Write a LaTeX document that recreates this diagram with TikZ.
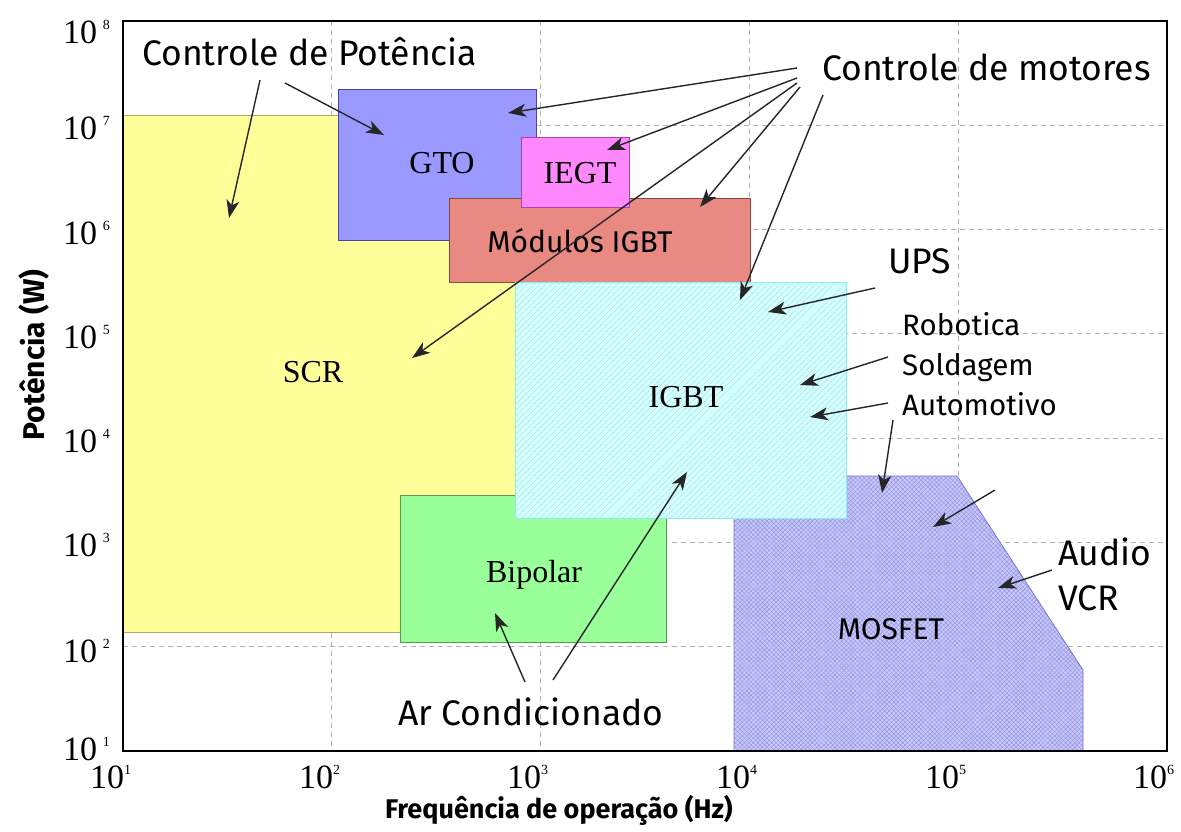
\documentclass[tikz,border=0pt]{standalone}
\usepackage{fontspec}
\setmainfont{Liberation Serif}
\newfontfamily\annfont{Fira Sans}
\usetikzlibrary{arrows.meta,patterns.meta}
\definecolor{scrc}{HTML}{FFFF99}
\definecolor{scrl}{HTML}{B0A860}
\definecolor{gtoc}{HTML}{9999FF}
\definecolor{gtol}{HTML}{4444AA}
\definecolor{iegtc}{HTML}{FF88FF}
\definecolor{iegtl}{HTML}{AA44AA}
\definecolor{modc}{HTML}{E88A82}
\definecolor{modl}{HTML}{8A4A40}
\definecolor{igbtc}{HTML}{D4FFFF}
\definecolor{igbth}{HTML}{9ED8E0}
\definecolor{igbtl}{HTML}{88EEEE}
\definecolor{bipc}{HTML}{99FF99}
\definecolor{bipl}{HTML}{559955}
\definecolor{mosc}{HTML}{C8C8FF}
\definecolor{mosh}{HTML}{9898E0}
\definecolor{mosl}{HTML}{7777CC}
\newcommand{\ex}[1]{\raisebox{14pt}{\fontsize{14}{14}\selectfont #1}}
\begin{document}
\begin{tikzpicture}[x=1pt,y=-1pt,
  gridl/.style={draw=gray!60, dash pattern=on 5pt off 4pt, line width=1pt},
  boxl/.style={line width=0.8pt},
  ann/.style={font=\annfont\fontsize{35.5}{40}\selectfont, inner sep=0pt, anchor=base west},
  annsm/.style={font=\annfont\fontsize{29.5}{32}\selectfont, inner sep=0pt, anchor=base west},
  serlab/.style={font=\fontsize{32}{34}\selectfont, inner sep=0pt, anchor=base},
  sanslab/.style={font=\annfont\fontsize{30}{32}\selectfont, inner sep=0pt, anchor=base},
  ytick/.style={font=\fontsize{34}{36}\selectfont, inner sep=0pt, anchor=base west},
  xtick/.style={font=\fontsize{34}{36}\selectfont, inner sep=0pt, anchor=base west},
  axlab/.style={font=\annfont\bfseries\fontsize{27}{30}\selectfont, inner sep=0pt},
  arr/.style={-{Stealth[length=18pt,width=13pt,inset=5pt]}, line width=1.4pt, draw=black!85},
]
\useasboundingbox[fill=white] (0,0) rectangle (1181,831);
% grid
\foreach \gx in {331.8,540.6,749.4,958.2} \draw[gridl] (\gx,21) -- (\gx,751);
\foreach \gy in {125.3,229.6,333.9,438.2,542.5,646.8} \draw[gridl] (123,\gy) -- (1167,\gy);
% regions
\draw[boxl, draw=scrl, fill=scrc] (123,115) rectangle (520,632);
\draw[boxl, draw=gtol, fill=gtoc] (338,89) rectangle (536,240);
\draw[boxl, draw=modl, fill=modc] (449,198) rectangle (750,282);
\draw[boxl, draw=iegtl, fill=iegtc] (521,137) rectangle (629,207);
\draw[boxl, draw=bipl, fill=bipc] (400,495) rectangle (666,642);
\fill[mosc] (734,751) -- (734,476) -- (957,476) -- (1083,670) -- (1083,751) -- cycle;
\fill[pattern={Hatch[angle=45,distance=3.2pt,line width=0.5pt]}, pattern color=mosh] (734,751) -- (734,476) -- (957,476) -- (1083,670) -- (1083,751) -- cycle;
\draw[boxl, draw=mosl] (734,751) -- (734,476) -- (957,476) -- (1083,670) -- (1083,751);
\fill[igbtc] (515,282) rectangle (846,518);
\fill[pattern={Lines[angle=45,distance=4pt,line width=0.6pt]}, pattern color=igbth] (515,282) rectangle (846,518);
\draw[boxl, draw=igbtl] (515,282) rectangle (846,518);
% frame
\draw[line width=2.4pt] (123,21) rectangle (1167,751);
% tick labels
\node[ytick] (y8) at (63,43) {10\,\ex{8}};
\node[ytick] (y7) at (63,139) {10\,\ex{7}};
\node[ytick] (y6) at (63,244) {10\,\ex{6}};
\node[ytick] (y5) at (63,348) {10\,\ex{5}};
\node[ytick] (y4) at (63,452) {10\,\ex{4}};
\node[ytick] (y3) at (63,556) {10\,\ex{3}};
\node[ytick] (y2) at (63,662) {10\,\ex{2}};
\node[ytick] (y1) at (63,760) {10\,\ex{1}};
\node[xtick] (x1) at (90,788) {10\ex{1}};
\node[xtick] (x2) at (299,788) {10\ex{2}};
\node[xtick] (x3) at (507,788) {10\ex{3}};
\node[xtick] (x4) at (716,788) {10\ex{4}};
\node[xtick] (x5) at (925,788) {10\ex{5}};
\node[xtick] (x6) at (1133,788) {10\ex{6}};
% axis labels
\node[axlab, anchor=base] (xlab) at (559,818) {Frequência de operação (Hz)};
\node[axlab, font=\annfont\bfseries\fontsize{30}{32}\selectfont, rotate=90, anchor=base] (ylab) at (44,355) {Potência (W)};
% region labels
\node[serlab] (gto) at (442,173) {GTO};
\node[serlab] (iegt) at (580,183) {IEGT};
\node[sanslab] (mod) at (580,252) {Módulos IGBT};
\node[serlab] (scr) at (313,382) {SCR};
\node[serlab] (igbt) at (686,407) {IGBT};
\node[serlab] (bip) at (534,582) {Bipolar};
\node[sanslab] (mos) at (891,639) {MOSFET};
% annotations
\node[ann] (cpot) at (142,65) {Controle de Potência};
\node[ann] (cmot) at (822,80) {Controle de motores};
\node[ann] (ups) at (888,273) {UPS};
\node[annsm] (rob) at (902,335) {Robotica};
\node[annsm] (sold) at (902,375) {Soldagem};
\node[annsm] (auto) at (902,415) {Automotivo};
\node[ann] (audio) at (1058,565) {Audio};
\node[ann] (vcr) at (1058,610) {VCR};
\node[ann] (arc) at (398,725) {Ar Condicionado};
% arrow ends
\coordinate (a1s) at (260,80);  \coordinate (a1t) at (229,218);
\coordinate (a2s) at (285,83);  \coordinate (a2t) at (384,135);
\coordinate (m1s) at (797,68);  \coordinate (m1t) at (508,113);
\coordinate (m2s) at (797,78);  \coordinate (m2t) at (607,150);
\coordinate (m3s) at (797,83);  \coordinate (m3t) at (412,358);
\coordinate (m4s) at (800,87);  \coordinate (m4t) at (700,207);
\coordinate (m5s) at (823,95);  \coordinate (m5t) at (740,300);
\coordinate (u1s) at (875,288); \coordinate (u1t) at (768,312);
\coordinate (r1s) at (888,357); \coordinate (r1t) at (800,385);
\coordinate (r2s) at (888,403); \coordinate (r2t) at (810,417);
\coordinate (r3s) at (893,420); \coordinate (r3t) at (882,493);
\coordinate (r4s) at (995,490); \coordinate (r4t) at (933,527);
\coordinate (aus) at (1052,570); \coordinate (aut) at (998,588);
\coordinate (c1s) at (525,682); \coordinate (c1t) at (495,613);
\coordinate (c2s) at (553,680); \coordinate (c2t) at (687,472);
\foreach \p in {a1,a2,m1,m2,m3,m4,m5,u1,r1,r2,r3,r4,au,c1,c2}
  \draw[arr] (\p s) -- (\p t);
\end{tikzpicture}
\end{document}
